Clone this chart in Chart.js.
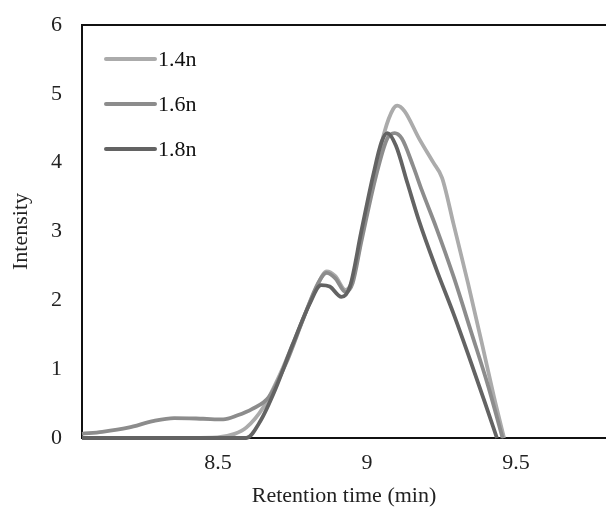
<!DOCTYPE html>
<html>
<head>
<meta charset="utf-8">
<script src="https://cdn.jsdelivr.net/npm/chart.js@4.4.1/dist/chart.umd.min.js"></script>
<style>
  html, body { margin: 0; padding: 0; background: #fff; }
  #wrap { width: 606px; height: 519px; }
</style>
</head>
<body>
<div id="wrap"><canvas id="chromatogram"></canvas></div>
<script>
// series names
var seriesLabels = ["1.4n", "1.6n", "1.8n"];
var seriesColors = ["#ababab", "#8c8c8c", "#636363"];

// retention time (min) / intensity
var time14 = [8.044, 8.305, 8.498, 8.556, 8.595, 8.653, 8.711, 8.769, 8.827, 8.865, 8.894, 8.928, 8.952, 8.981, 9.020, 9.059, 9.088, 9.102, 9.126, 9.175, 9.223, 9.252, 9.291, 9.339, 9.387, 9.426, 9.460];
var int14  = [0, 0, 0.01, 0.06, 0.15, 0.45, 0.95, 1.55, 2.15, 2.42, 2.35, 2.15, 2.3, 2.9, 3.7, 4.45, 4.78, 4.83, 4.75, 4.35, 4.0, 3.78, 3.1, 2.25, 1.35, 0.6, 0];

var time16 = [8.044, 8.112, 8.199, 8.286, 8.353, 8.450, 8.518, 8.566, 8.614, 8.672, 8.730, 8.788, 8.836, 8.865, 8.894, 8.928, 8.952, 8.981, 9.030, 9.068, 9.093, 9.117, 9.155, 9.184, 9.233, 9.291, 9.349, 9.407, 9.455];
var int16  = [0.06, 0.09, 0.15, 0.25, 0.29, 0.28, 0.27, 0.33, 0.42, 0.6, 1.1, 1.75, 2.25, 2.4, 2.32, 2.12, 2.25, 2.85, 3.8, 4.35, 4.43, 4.35, 3.95, 3.6, 3.05, 2.34, 1.55, 0.75, 0];

var time18 = [8.044, 8.547, 8.595, 8.643, 8.692, 8.750, 8.808, 8.846, 8.875, 8.914, 8.943, 8.981, 9.020, 9.049, 9.068, 9.097, 9.136, 9.175, 9.233, 9.291, 9.349, 9.397, 9.436];
var int18  = [0, 0, 0, 0.25, 0.7, 1.35, 1.95, 2.22, 2.2, 2.05, 2.2, 3.0, 3.8, 4.3, 4.43, 4.25, 3.7, 3.15, 2.45, 1.8, 1.1, 0.5, 0];

// axis ticks
var xTickValues = [8.5, 9, 9.5];
var xTickLabels = ["8.5", "9", "9.5"];
var yTickValues = [0, 1, 2, 3, 4, 5, 6];

var serif = "'Liberation Serif', 'DejaVu Serif', serif";

function toPoints(xs, ys) {
  return xs.map(function (x, i) { return { x: x, y: ys[i] }; });
}

var allTimes = [time14, time16, time18];
var allInts = [int14, int16, int18];

var datasets = seriesLabels.map(function (lab, i) {
  return {
    label: lab,
    data: toPoints(allTimes[i], allInts[i]),
    borderColor: seriesColors[i],
    borderWidth: 3.8,
    pointRadius: 0,
    cubicInterpolationMode: "monotone",
    clip: false,
    order: 2 - i
  };
});

// legend drawn inside the plot, top-left, one per row
var insideLegend = {
  id: "insideLegend",
  afterDraw: function (chart) {
    var c = chart.ctx;
    c.save();
    c.font = "22px " + serif;
    c.textBaseline = "middle";
    c.fillStyle = "#111";
    seriesLabels.forEach(function (lab, i) {
      var y = 59 + i * 45;
      c.strokeStyle = seriesColors[i];
      c.lineWidth = 4;
      c.lineCap = "round";
      c.beginPath();
      c.moveTo(106, y);
      c.lineTo(155, y);
      c.stroke();
      c.fillText(lab, 158, y + 1);
    });
    c.restore();
  }
};

// top frame line
var topFrame = {
  id: "topFrame",
  afterDatasetsDraw: function (chart) {
    var a = chart.chartArea, c = chart.ctx;
    c.save();
    c.strokeStyle = "#111";
    c.lineWidth = 2;
    c.beginPath();
    c.moveTo(a.left, a.top);
    c.lineTo(a.right, a.top);
    c.stroke();
    c.restore();
  }
};

var ctx = document.getElementById("chromatogram");

var chart1 = new Chart(ctx, {
  type: "line",
  data: { datasets: datasets },
  plugins: [insideLegend, topFrame],
  options: {
    responsive: true,
    maintainAspectRatio: false,
    animation: false,
    layout: { padding: { top: 25, right: 0, left: 0, bottom: 0 } },
    plugins: {
      legend: { display: false },
      tooltip: { enabled: false }
    },
    scales: {
      x: {
        type: "linear",
        min: 8.044,
        max: 9.802,
        grid: { display: false, drawTicks: false },
        border: { display: true, color: "#111", width: 2 },
        afterBuildTicks: function (scale) {
          scale.ticks = xTickValues.map(function (v) { return { value: v }; });
        },
        afterFit: function (scale) { scale.height = 81; },
        ticks: {
          autoSkip: false,
          maxRotation: 0,
          padding: 12,
          color: "#222",
          font: { family: serif, size: 22 },
          callback: function (v) {
            var k = xTickValues.indexOf(v);
            return k >= 0 ? xTickLabels[k] : "";
          }
        },
        title: {
          display: true,
          text: "Retention time (min)",
          color: "#222",
          font: { family: serif, size: 22 },
          padding: { top: 0, bottom: 10 }
        }
      },
      y: {
        min: 0,
        max: 6,
        grid: { display: false, drawTicks: false },
        border: { display: true, color: "#111", width: 2 },
        afterBuildTicks: function (scale) {
          scale.ticks = yTickValues.map(function (v) { return { value: v }; });
        },
        afterFit: function (scale) {
          scale.width = 82;
          scale.paddingTop = 12;
          scale.paddingBottom = 12;
        },
        ticks: {
          padding: 20,
          color: "#222",
          font: { family: serif, size: 22 }
        },
        title: {
          display: true,
          text: "Intensity",
          color: "#222",
          font: { family: serif, size: 22 },
          padding: { top: 8, bottom: 0 }
        }
      }
    }
  }
});
</script>
</body>
</html>
